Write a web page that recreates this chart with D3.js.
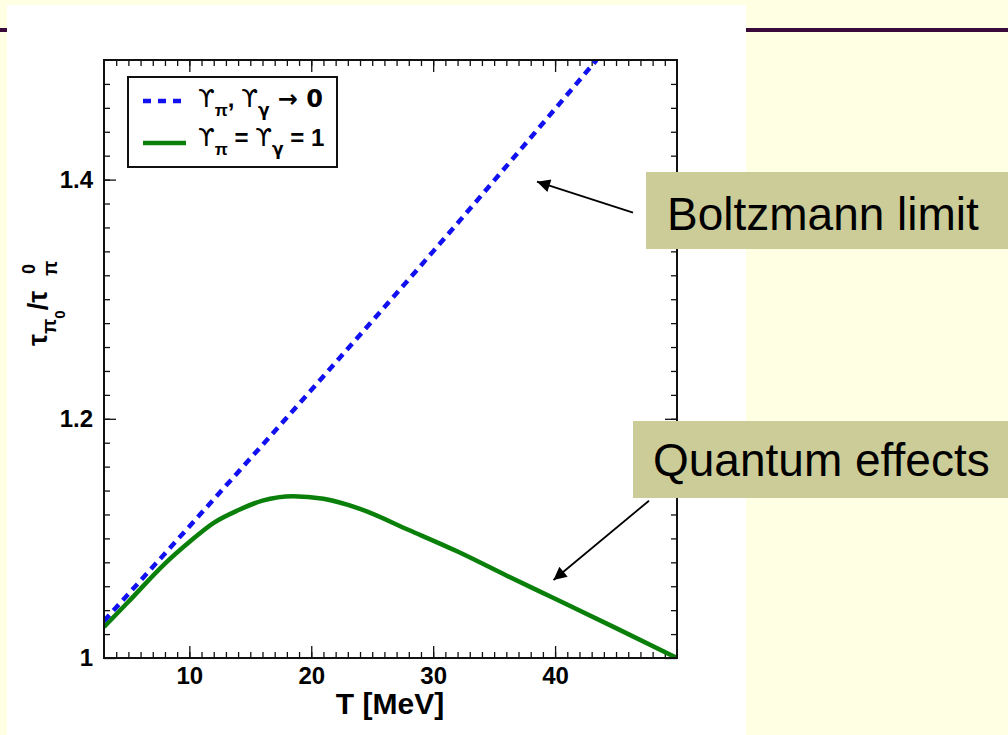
<!DOCTYPE html>
<html><head><meta charset="utf-8">
<script src="https://cdn.jsdelivr.net/npm/d3@7"></script>
<style>
html,body{margin:0;padding:0;background:#FFFFE3;}
svg{display:block;}
text{font-family:"Liberation Sans",Arial,sans-serif;}
</style></head>
<body>
<svg id="c" width="1008" height="735"></svg>
<script>
// ---- data ----
const boltzT = [3, 10, 20, 30, 43.4];
const boltzV = [1.031, 1.110, 1.224, 1.340, 1.5];
const quantT = [3, 5, 8, 10, 12, 14, 16, 18.5, 21, 24, 28, 32, 36, 40, 45, 50];
const quantV = [1.026, 1.047, 1.079, 1.097, 1.113, 1.1235, 1.1316, 1.1353, 1.1331, 1.1247, 1.107, 1.089, 1.069, 1.0495, 1.025, 1.000];
const xMajor = [10, 20, 30, 40];
const yMajor = [1, 1.2, 1.4];
const yTickLabels = ["1", "1.2", "1.4"];
const legendLabels = [["ϒ","π",", ","ϒ","γ"," → 0"], ["ϒ","π"," = ","ϒ","γ"," = 1"]];
const notes = ["Boltzmann limit", "Quantum effects"];

const svg = d3.select("#c");
// background & slide decoration
svg.append("rect").attr("width",1008).attr("height",735).attr("fill","#FFFFE3");
svg.append("rect").attr("x",0).attr("y",28).attr("width",1008).attr("height",4).attr("fill","#3a0a3a");
svg.append("rect").attr("x",7).attr("y",5).attr("width",739).attr("height",740).attr("fill","#ffffff");

const x = d3.scaleLinear().domain([3,50]).range([104,677]);
const y = d3.scaleLinear().domain([1,1.5]).range([658,60]);

svg.append("clipPath").attr("id","pc").append("rect")
  .attr("x",104).attr("y",60).attr("width",573).attr("height",598);

// axes (ticks inward)
function styleAxis(g){ g.select(".domain").remove(); g.selectAll("line").attr("stroke","#111").attr("stroke-width",1.3); }
function styleText(g){ g.selectAll("text").attr("font-size",24).attr("font-weight","bold").attr("fill","#000").attr("font-family","Liberation Sans, Arial, sans-serif"); }
const xMinor = d3.range(4,50);
const yMinor = d3.range(1.02,1.5,0.02).map(v=>+v.toFixed(2));
svg.append("g").attr("transform","translate(0,658)").call(d3.axisBottom(x).tickValues(xMinor).tickSizeInner(-6).tickSizeOuter(0).tickFormat("")).call(styleAxis);
svg.append("g").attr("transform","translate(0,658)").call(d3.axisBottom(x).tickValues(xMajor).tickSizeInner(-12).tickSizeOuter(0).tickPadding(9).tickFormat(d3.format("d"))).call(styleAxis).call(styleText);
svg.append("g").attr("transform","translate(0,60)").call(d3.axisTop(x).tickValues(xMinor).tickSizeInner(-6).tickSizeOuter(0).tickFormat("")).call(styleAxis);
svg.append("g").attr("transform","translate(0,60)").call(d3.axisTop(x).tickValues(xMajor).tickSizeInner(-12).tickSizeOuter(0).tickFormat("")).call(styleAxis);
svg.append("g").attr("transform","translate(104,0)").call(d3.axisLeft(y).tickValues(yMinor).tickSizeInner(-6).tickSizeOuter(0).tickFormat("")).call(styleAxis);
svg.append("g").attr("transform","translate(104,0)").call(d3.axisLeft(y).tickValues(yMajor).tickSizeInner(-12).tickSizeOuter(0).tickPadding(11).tickFormat((d,i)=>yTickLabels[i])).call(styleAxis).call(styleText);
svg.append("g").attr("transform","translate(677,0)").call(d3.axisRight(y).tickValues(yMinor).tickSizeInner(-6).tickSizeOuter(0).tickFormat("")).call(styleAxis);
svg.append("g").attr("transform","translate(677,0)").call(d3.axisRight(y).tickValues(yMajor).tickSizeInner(-12).tickSizeOuter(0).tickFormat("")).call(styleAxis);

// lines
const line = d3.line().x(d=>x(d[0])).y(d=>y(d[1])).curve(d3.curveMonotoneX);
const plot = svg.append("g").attr("clip-path","url(#pc)");
plot.append("path").datum(quantT.map((t,i)=>[t,quantV[i]])).attr("d",line)
  .attr("fill","none").attr("stroke","#0a800a").attr("stroke-width",4.5);
plot.append("path").datum(boltzT.map((t,i)=>[t,boltzV[i]])).attr("d",line)
  .attr("fill","none").attr("stroke","#1010f0").attr("stroke-width",4.5).attr("stroke-dasharray","8,6");

// frame
svg.append("rect").attr("x",104).attr("y",60).attr("width",573).attr("height",598)
  .attr("fill","none").attr("stroke","#111").attr("stroke-width",2);

// axis titles
svg.append("text").attr("x",390).attr("y",714).attr("text-anchor","middle")
  .attr("font-size",30).attr("font-weight","bold").text("T [MeV]");
const yl = svg.append("g").attr("transform","translate(47,346) rotate(-90)")
  .attr("font-weight","bold");
const ylt = yl.append("text").attr("x",0).attr("y",0).attr("font-size",27);
ylt.append("tspan").text("τ");
ylt.append("tspan").attr("font-size",20).attr("dy",9).text("π");
ylt.append("tspan").attr("font-size",15).attr("dy",9).text("0");
ylt.append("tspan").attr("font-size",27).attr("dy",-18).text("/τ");
yl.append("text").attr("x",70).attr("y",10).attr("font-size",20).text("π");
yl.append("text").attr("x",72).attr("y",-12).attr("font-size",18).text("0");

// legend
svg.append("rect").attr("x",128).attr("y",77).attr("width",209).attr("height",90)
  .attr("fill","#fff").attr("stroke","#111").attr("stroke-width",2);
svg.append("line").attr("x1",143).attr("x2",182).attr("y1",101).attr("y2",101)
  .attr("stroke","#1010f0").attr("stroke-width",4.5).attr("stroke-dasharray","8,7");
svg.append("line").attr("x1",143).attr("x2",186).attr("y1",143).attr("y2",143)
  .attr("stroke","#0a800a").attr("stroke-width",4.5);
[107,146].forEach((yy,k)=>{
  const t = svg.append("text").attr("x",198).attr("y",yy).attr("font-size",24).attr("font-weight","bold");
  const p = legendLabels[k];
  t.append("tspan").attr("font-family","DejaVu Sans").attr("font-weight","normal").text(p[0]);
  t.append("tspan").attr("font-size",17).attr("dy",9).text(p[1]);
  t.append("tspan").attr("font-size",24).attr("dy",-9).text(p[2]);
  t.append("tspan").attr("font-family","DejaVu Sans").attr("font-weight","normal").text(p[3]);
  t.append("tspan").attr("font-size",17).attr("dy",9).attr("font-family","DejaVu Sans").text(p[4]);
  t.append("tspan").attr("font-size",24).attr("dy",-9).attr("font-family",k===0?"DejaVu Sans":null).text(p[5]);
});

// annotations
const defs = svg.append("defs");
defs.append("marker").attr("id","ah").attr("viewBox","0 0 10 10").attr("refX",10).attr("refY",5)
  .attr("markerWidth",18).attr("markerHeight",13).attr("markerUnits","userSpaceOnUse").attr("orient","auto")
  .append("path").attr("d","M0,0 L10,5 L0,10 z").attr("fill","#000");
svg.append("line").attr("x1",633).attr("y1",212.7).attr("x2",537).attr("y2",181.7)
  .attr("stroke","#000").attr("stroke-width",1.8).attr("marker-end","url(#ah)");
svg.append("line").attr("x1",649).attr("y1",500.7).attr("x2",553.5).attr("y2",580)
  .attr("stroke","#000").attr("stroke-width",1.8).attr("marker-end","url(#ah)");

svg.append("rect").attr("x",646).attr("y",172).attr("width",370).attr("height",77).attr("fill","#CCCC99");
svg.append("text").attr("x",667).attr("y",230).attr("font-size",46).attr("fill","#000").text(notes[0]);
svg.append("rect").attr("x",633).attr("y",421).attr("width",380).attr("height",77).attr("fill","#CCCC99");
svg.append("text").attr("x",653).attr("y",476).attr("font-size",46).attr("fill","#000").text(notes[1]);
</script>
</body></html>
